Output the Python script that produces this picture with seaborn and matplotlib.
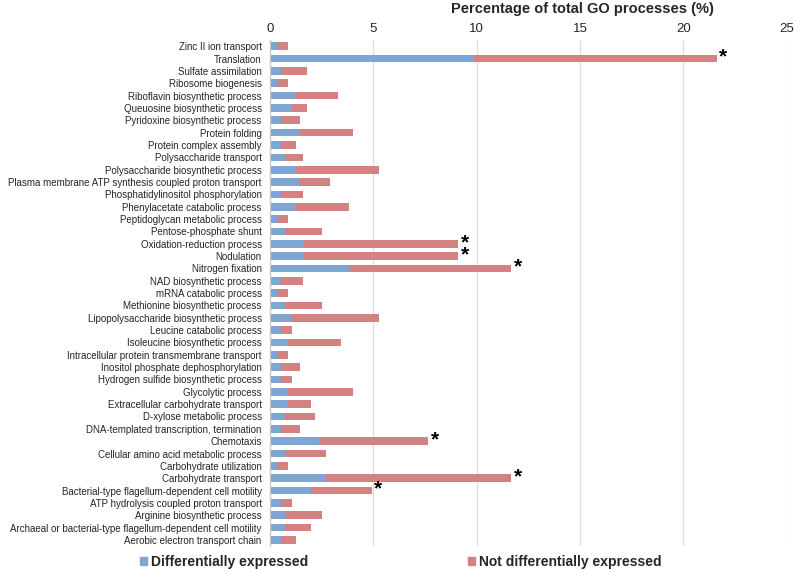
import pandas as pd
import matplotlib.pyplot as plt
import seaborn as sns
from matplotlib.patches import Patch

processes = [
    "Zinc II ion transport", "Translation", "Sulfate assimilation", "Ribosome biogenesis",
    "Riboflavin biosynthetic process", "Queuosine biosynthetic process",
    "Pyridoxine biosynthetic process", "Protein folding", "Protein complex assembly",
    "Polysaccharide transport", "Polysaccharide biosynthetic process",
    "Plasma membrane ATP synthesis coupled proton transport",
    "Phosphatidylinositol phosphorylation", "Phenylacetate catabolic process",
    "Peptidoglycan metabolic process", "Pentose-phosphate shunt",
    "Oxidation-reduction process", "Nodulation", "Nitrogen fixation",
    "NAD biosynthetic process", "mRNA catabolic process", "Methionine biosynthetic process",
    "Lipopolysaccharide biosynthetic process", "Leucine catabolic process",
    "Isoleucine biosynthetic process", "Intracellular protein transmembrane transport",
    "Inositol phosphate dephosphorylation", "Hydrogen sulfide biosynthetic process",
    "Glycolytic process", "Extracellular carbohydrate transport",
    "D-xylose metabolic process", "DNA-templated transcription, termination",
    "Chemotaxis", "Cellular amino acid metabolic process", "Carbohydrate utilization",
    "Carbohydrate transport", "Bacterial-type flagellum-dependent cell motility",
    "ATP hydrolysis coupled proton transport", "Arginine biosynthetic process",
    "Archaeal or bacterial-type flagellum-dependent cell motility",
    "Aerobic electron transport chain",
]

# differentially expressed (%)
de = [0.35, 9.86, 0.53, 0.35, 1.26, 1.06, 0.53, 1.45, 0.53, 0.71, 1.26, 1.45, 0.53, 1.26,
      0.35, 0.71, 1.63, 1.63, 3.84, 0.53, 0.35, 0.71, 1.06, 0.53, 0.89, 0.35, 0.53, 0.53,
      0.89, 0.89, 0.71, 0.53, 2.37, 0.71, 0.35, 2.71, 1.98, 0.53, 0.71, 0.71, 0.53]
# not differentially expressed (%)
not_de = [0.54, 11.74, 1.26, 0.54, 2.01, 0.73, 0.91, 2.55, 0.71, 0.90, 4.03, 1.45, 1.08,
          2.56, 0.54, 1.82, 7.48, 7.48, 7.83, 1.08, 0.54, 1.82, 4.23, 0.53, 2.56, 0.54,
          0.91, 0.53, 3.11, 1.09, 1.45, 0.91, 5.29, 2.00, 0.54, 8.96, 2.94, 0.53, 1.82,
          1.27, 0.71]
starred = ["Translation", "Oxidation-reduction process", "Nodulation", "Nitrogen fixation",
           "Chemotaxis", "Carbohydrate transport",
           "Bacterial-type flagellum-dependent cell motility"]

df = pd.DataFrame({"process": processes, "de": de, "not_de": not_de})
df["total"] = df["de"] + df["not_de"]

blue = "#7fa5d3"
red = "#d48182"

sns.set_style("white")
plt.rcParams["font.family"] = ["Liberation Sans", "DejaVu Sans"]

fig = plt.figure(figsize=(7.94, 5.73), dpi=100)
ax = fig.add_axes([0.340, 0.047, 0.651, 0.883])

sns.barplot(data=df, x="total", y="process", color=red, width=0.62,
            saturation=1, linewidth=0, edgecolor="none", ax=ax, orient="h")
sns.barplot(data=df, x="de", y="process", color=blue, width=0.62,
            saturation=1, linewidth=0, edgecolor="none", ax=ax, orient="h")

for i, row in df.iterrows():
    if row["process"] in starred:
        ax.text(row["total"] + 0.12, i - 0.1, "*", fontsize=15, fontweight="bold",
                va="center", ha="left", color="black")

ax.set_xlim(0, 25)
ax.set_xticks([0, 5, 10, 15, 20, 25])
ax.xaxis.tick_top()
ax.set_xlabel("")
ax.set_ylabel("")
ax.tick_params(axis="x", length=0, labelsize=9.5, pad=4)
ax.tick_params(axis="y", length=0, labelsize=7, pad=6)
ax.grid(axis="x", color="#dcdcdc", linewidth=0.9)
ax.set_axisbelow(True)
for s in ["top", "right", "bottom"]:
    ax.spines[s].set_visible(False)
ax.spines["left"].set_color("#c8c8c8")
ax.spines["left"].set_linewidth(0.9)

fig.text(0.734, 0.985, "Percentage of total GO processes (%)", fontsize=10.5,
         fontweight="bold", ha="center", va="center")

handles = [Patch(color=blue), Patch(color=red)]
fig.legend(handles, ["Differentially expressed", "Not differentially expressed"],
           loc="center", bbox_to_anchor=(0.505, 0.019), ncol=2, frameon=False,
           prop={"weight": "bold", "size": 10},
           handlelength=0.5, handleheight=0.5, handletextpad=0.3, columnspacing=11.5)

fig.savefig("out.png", dpi=100)
